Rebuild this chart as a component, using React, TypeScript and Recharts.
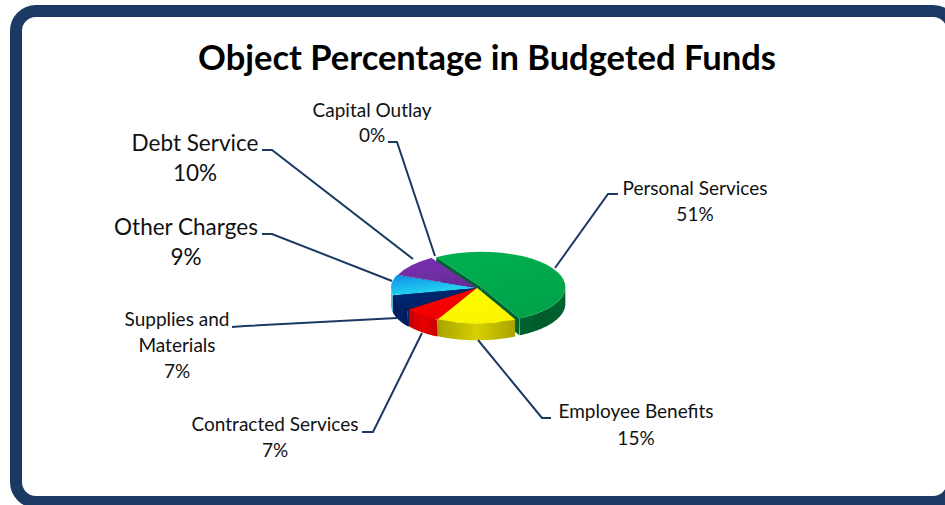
import React from 'react';
import { PieChart, Pie } from 'recharts';

// Listed counter-clockwise from the Employee Benefits edge, which also paints back-to-front.
const categories = ['Personal Services', 'Capital Outlay', 'Debt Service', 'Other Charges', 'Supplies and Materials', 'Contracted Services', 'Employee Benefits'];
const values = [51, 0, 10, 9, 7, 7, 15];
const topColors = [
  ['#00b050', '#00a44a'], ['#7030a0', '#7030a0'], ['#7a2fb0', '#6a2c9c'], ['#0c8ee8', '#26dcf2'],
  ['#002a78', '#002060'], ['#ff0000', '#f00000'], ['#ffff00', '#fbf400'],
];
const rimColors = [
  ['#006430', '#005a2a'], ['#4a1f70', '#4a1f70'], ['#4a1f70', '#4a1f70'], ['#20c8e8', '#30e0f4'],
  ['#001a58', '#002468'], ['#c80000', '#e80000'], ['#a8a400', '#d8d000'],
];
const labelLines = [['Personal Services'], ['Capital Outlay'], ['Debt Service'], ['Other Charges'], ['Supplies and', 'Materials'], ['Contracted Services'], ['Employee Benefits']];
const labelX = [695, 372, 195, 186, 177, 275, 636];
const labelY = [195, 117, 151, 235, 326, 431, 418];
const labelSize = [19, 19, 22.5, 22.5, 19, 19, 19];
const labelGap = [26, 25, 30, 30, 26, 26, 27];
const leaders = [
  '618,194 608,194 555,268', '388,142 397,142 435,256', '262,150 272,150 413,259', '262,234 272,234 392,281',
  '232,327 245,326 397,318', '362,432 373,432 422,333', '551,418 542,418 478,340',
];
const explode = [5, 0, 1, 2, 2, 1, 0];

const NAVY = '#1a3a64';
const FONT = 'Lato, sans-serif';
const SQUASH = 0.42;
const DEPTH = 17;
const rows = categories.map((name, i) => ({ name, value: values[i], idx: i }));

function Slice(props: any) {
  const { cx, cy, outerRadius: R, startAngle, endAngle, payload } = props;
  const i = payload?.idx ?? props.idx ?? props.index;
  const lo = Math.min(startAngle, endAngle);
  const hi = Math.max(startAngle, endAngle);
  if (hi - lo < 0.01) return <g />;
  const rad = (d: number) => (d * Math.PI) / 180;
  const mid = rad((lo + hi) / 2);
  const ax = cx + explode[i] * Math.cos(mid);
  const ay = cy - explode[i] * SQUASH * Math.sin(mid);
  const px = (d: number) => ax + R * Math.cos(rad(d));
  const py = (d: number) => ay - R * SQUASH * Math.sin(rad(d));
  const large = hi - lo > 180 ? 1 : 0;
  const top = `M${ax},${ay} L${px(lo)},${py(lo)} A${R},${R * SQUASH} 0 ${large} 0 ${px(hi)},${py(hi)} Z`;
  const front: string[] = [];
  for (let d = lo; d <= hi; d += 1) if (Math.sin(rad(d)) <= 0.001) front.push(`${px(d)},${py(d)}`);
  const back: string[] = [];
  for (let d = hi; d >= lo; d -= 1) if (Math.sin(rad(d)) <= 0.001) back.push(`${px(d)},${py(d) + DEPTH}`);
  const wall = (d: number) => `${ax},${ay} ${px(d)},${py(d)} ${px(d)},${py(d) + DEPTH} ${ax},${ay + DEPTH}`;
  const t = `top${i}`;
  const r = `rim${i}`;
  return (
    <g filter="url(#soft)">
      <defs>
        <linearGradient id={t} x1="0" y1="0" x2="0.5" y2="1">
          <stop offset="0" stopColor={topColors[i][0]} />
          <stop offset="1" stopColor={topColors[i][1]} />
        </linearGradient>
        <linearGradient id={r} x1="0" y1="0" x2="1" y2="0">
          <stop offset="0" stopColor={rimColors[i][0]} />
          <stop offset="0.5" stopColor={rimColors[i][1]} />
          <stop offset="1" stopColor={rimColors[i][0]} />
        </linearGradient>
      </defs>
      <polygon points={wall(lo)} fill={rimColors[i][0]} />
      <polygon points={wall(hi)} fill={rimColors[i][0]} />
      {front.length > 1 && <polygon points={[...front, ...back].join(' ')} fill={`url(#${r})`} />}
      <path d={top} fill={`url(#${t})`} />
    </g>
  );
}

function SliceLabel(props: any) {
  const i = props.payload?.idx ?? props.index;
  const lines = labelLines[i];
  const size = labelSize[i];
  return (
    <g>
      <polyline points={leaders[i]} fill="none" stroke={NAVY} strokeWidth={2} />
      {[...lines, `${values[i]}%`].map((s, k) => (
        <text key={k} x={labelX[i]} y={labelY[i] + k * labelGap[i]} textAnchor="middle" fontFamily={FONT} fontSize={size} fill="#111">
          {s}
        </text>
      ))}
    </g>
  );
}

export default function App() {
  return (
    <div style={{ position: 'absolute', left: 0, top: 0, width: 945, height: 505, overflow: 'hidden', background: '#fff' }}>
      <div style={{ position: 'absolute', left: 10, top: 5, width: 925, height: 479, border: `12px solid ${NAVY}`, borderRadius: 26 }} />
      <div style={{ position: 'absolute', left: 0, top: 0 }}>
        <PieChart width={945} height={505} margin={{ top: 0, right: 0, bottom: 0, left: 0 }}>
          <defs>
            <filter id="soft" x="-10%" y="-10%" width="120%" height="120%">
              <feGaussianBlur stdDeviation="0.5" />
            </filter>
          </defs>
          <text x={487} y={70} textAnchor="middle" fontFamily={FONT} fontWeight={700} fontSize={34.5} fill="#000">
            Object Percentage in Budgeted Funds
          </text>
          <Pie
            data={rows}
            dataKey="value"
            nameKey="name"
            cx={477}
            cy={288}
            outerRadius={84}
            startAngle={-63}
            endAngle={297}
            stroke="none"
            shape={Slice}
            label={SliceLabel}
            labelLine={false}
            isAnimationActive={false}
          />
        </PieChart>
      </div>
    </div>
  );
}
